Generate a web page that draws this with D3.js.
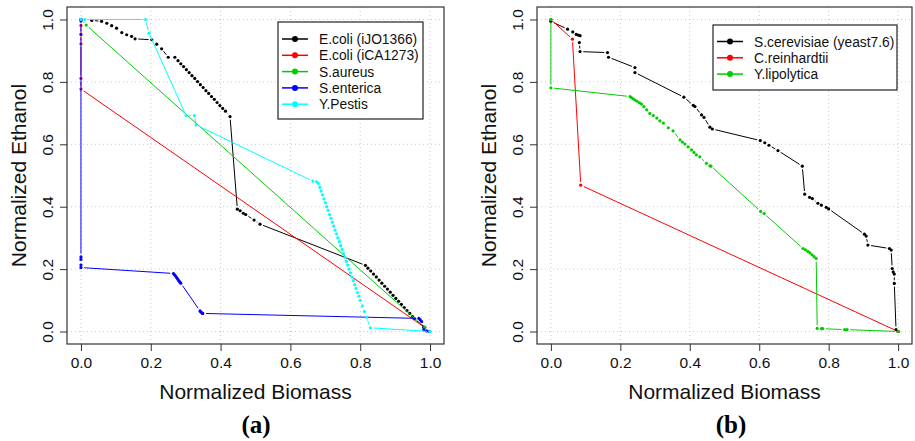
<!DOCTYPE html>
<html>
<head>
<meta charset="utf-8">
<script src="https://cdn.jsdelivr.net/npm/d3@7"></script>
<style>
  body { margin: 0; background: #fff; }
  svg { display: block; font-family: "Liberation Sans", Arial, sans-serif; }
</style>
</head>
<body>
<svg id="chart" width="915" height="441"></svg>
<script>
// ---- data: [biomass, ethanol] ----
var ecoliJO = [[0.031,0.997],[0.059,0.994],[0.074,0.988],[0.088,0.980],[0.102,0.972],[0.117,0.958],[0.131,0.951],[0.145,0.946],[0.155,0.938],[0.203,0.935],[0.217,0.921],[0.231,0.906],[0.250,0.879],[0.269,0.879],
  [0.278,0.868],[0.286,0.858],[0.294,0.849],[0.302,0.839],[0.310,0.830],[0.318,0.820],[0.326,0.811],[0.334,0.801],[0.342,0.791],[0.350,0.782],[0.358,0.772],[0.366,0.763],[0.374,0.753],[0.382,0.744],[0.390,0.734],[0.398,0.724],[0.406,0.715],[0.414,0.706],[0.427,0.689],
  [0.448,0.392],[0.456,0.387],[0.465,0.379],[0.472,0.375],[0.496,0.357],[0.513,0.344],
  [0.815,0.212],[0.822,0.203],[0.830,0.194],[0.838,0.184],[0.846,0.175],[0.854,0.165],[0.862,0.155],[0.870,0.145],[0.878,0.136],[0.886,0.126],[0.894,0.116],[0.902,0.106],[0.910,0.097],[0.918,0.087],[0.926,0.077],[0.934,0.067],[0.942,0.058],[0.950,0.048],[0.956,0.041],[0.982,0.014]];
var ecoliCA = [[0,1.0],[0,0.981],[0,0.922],[0,0.811],[0,0.777],[0.985,0.013]];
var saureus = [[0,1.0],[0.015,0.982],[0.985,0.013]];
var senterica = [[0,1.0],[0,0.995],[0,0.952],[0,0.239],[0,0.231],[0,0.213],[0,0.205],
  [0.265,0.186],[0.268,0.182],[0.271,0.178],[0.274,0.173],[0.277,0.168],[0.280,0.163],[0.283,0.159],[0.286,0.155],
  [0.341,0.066],[0.344,0.062],[0.347,0.059],[0.349,0.058],
  [0.968,0.042],[0.972,0.037],[0.976,0.032],[0.982,0.006],[0.990,0.002],[0.998,0.0]];
var ypestis = [[0,1.0],[0.011,1.0],[0.185,1.0],[0.195,0.956],[0.301,0.692],[0.325,0.692],[0.330,0.662],[0.664,0.482],[0.675,0.480],
  [0.680,0.475],[0.684,0.462],[0.688,0.450],[0.692,0.438],[0.696,0.425],[0.700,0.413],[0.704,0.400],[0.708,0.388],[0.712,0.375],[0.716,0.363],[0.720,0.350],[0.724,0.338],[0.728,0.325],[0.732,0.313],[0.736,0.300],[0.740,0.288],[0.744,0.275],[0.748,0.263],[0.752,0.250],[0.756,0.238],[0.760,0.225],[0.764,0.213],[0.768,0.200],[0.772,0.188],[0.776,0.175],[0.780,0.163],[0.784,0.150],[0.788,0.138],[0.792,0.125],[0.796,0.113],[0.800,0.100],
  [0.806,0.082],[0.812,0.064],[0.818,0.045],[0.829,0.012],[1.0,0.0]];

var scerevisiae = [[0,0.994],[0.048,0.969],[0.063,0.960],[0.073,0.952],[0.079,0.950],[0.084,0.948],[0.082,0.926],[0.084,0.897],[0.163,0.894],[0.166,0.879],[0.242,0.846],[0.242,0.830],[0.383,0.751],[0.410,0.725],[0.415,0.721],[0.434,0.694],[0.441,0.686],[0.458,0.655],[0.465,0.649],[0.603,0.612],[0.616,0.605],[0.628,0.597],[0.654,0.580],[0.724,0.530],[0.731,0.440],[0.745,0.430],[0.753,0.426],[0.769,0.411],[0.779,0.405],[0.793,0.398],[0.800,0.393],[0.903,0.312],[0.908,0.306],[0.913,0.277],[0.975,0.266],[0.980,0.261],[0.983,0.202],[0.986,0.191],[0.989,0.184],[0.989,0.154],[0.994,0.006],[1.0,0.0]];
var creinhardtii = [[0,1.0],[0.062,0.937],[0.086,0.469],[1.0,0.0]];
var ylipolytica = [[0,1.0],[0,0.781],[0.228,0.753],[0.232,0.750],[0.237,0.746],[0.242,0.742],[0.248,0.738],[0.255,0.733],[0.261,0.729],[0.268,0.721],[0.276,0.710],[0.285,0.699],[0.295,0.692],[0.305,0.684],[0.314,0.675],[0.324,0.668],[0.338,0.653],[0.352,0.643],[0.372,0.614],[0.379,0.607],[0.386,0.601],[0.395,0.592],[0.405,0.582],[0.412,0.574],[0.419,0.566],[0.429,0.560],[0.448,0.539],[0.458,0.531],[0.461,0.530],[0.604,0.385],[0.614,0.378],[0.726,0.266],[0.733,0.262],[0.740,0.257],[0.746,0.252],[0.752,0.246],[0.758,0.240],[0.764,0.234],[0.767,0.010],[0.779,0.009],[0.783,0.009],[0.846,0.006],[0.853,0.006],[1.0,0.0]];

var ticks = [0, 0.2, 0.4, 0.6, 0.8, 1.0];
var tickLabels = ["0.0", "0.2", "0.4", "0.6", "0.8", "1.0"];

var namesA = ["E.coli (iJO1366)", "E.coli (iCA1273)", "S.aureus", "S.enterica", "Y.Pestis"];
var colorsA = ["#000000", "#ff0000", "#00cd00", "#0000ff", "#00ffff"];
var namesB = ["S.cerevisiae (yeast7.6)", "C.reinhardtii", "Y.lipolytica"];
var colorsB = ["#000000", "#ff0000", "#00cd00"];

var svg = d3.select("#chart");

function drawPanel(p) {
    var x = d3.scaleLinear().domain([-0.04, 1.04]).range([p.left, p.right]);
    var y = d3.scaleLinear().domain([-0.04, 1.04]).range([p.bottom, p.top]);
    var g = svg.append("g");

    // dotted grid
    g.selectAll(".vgrid").data(ticks).enter().append("line")
        .attr("x1", function (d) { return x(d); }).attr("x2", function (d) { return x(d); })
        .attr("y1", p.top).attr("y2", p.bottom)
        .attr("stroke", "#c8c8c8").attr("stroke-dasharray", "1,3");
    g.selectAll(".hgrid").data(ticks).enter().append("line")
        .attr("y1", function (d) { return y(d); }).attr("y2", function (d) { return y(d); })
        .attr("x1", p.left).attr("x2", p.right)
        .attr("stroke", "#c8c8c8").attr("stroke-dasharray", "1,3");

    // series: R type="b" -> lines with gaps around points
    var gap = 3.2;
    p.series.forEach(function (s, i) {
        var col = p.colors[i];
        for (var k = 1; k < s.length; k++) {
            var x0 = x(s[k-1][0]), y0 = y(s[k-1][1]), x1 = x(s[k][0]), y1 = y(s[k][1]);
            var len = Math.hypot(x1 - x0, y1 - y0);
            if (len <= 2 * gap + 0.5) continue;
            var ux = (x1 - x0) / len, uy = (y1 - y0) / len;
            g.append("line")
                .attr("x1", x0 + ux * gap).attr("y1", y0 + uy * gap)
                .attr("x2", x1 - ux * gap).attr("y2", y1 - uy * gap)
                .attr("stroke", col).attr("stroke-width", 1);
        }
        g.selectAll(null).data(s).enter().append("circle")
            .attr("cx", function (d) { return x(d[0]); })
            .attr("cy", function (d) { return y(d[1]); })
            .attr("r", 1.6).attr("fill", col);
    });

    // box
    g.append("rect").attr("x", p.left).attr("y", p.top)
        .attr("width", p.right - p.left).attr("height", p.bottom - p.top)
        .attr("fill", "none").attr("stroke", "#333").attr("stroke-width", 1.2);

    // axes
    var xa = g.append("g").attr("transform", "translate(0," + p.bottom + ")")
        .call(d3.axisBottom(x).tickValues(ticks).tickSize(7).tickPadding(6)
            .tickFormat(function (d, i) { return tickLabels[i]; }));
    var ya = g.append("g").attr("transform", "translate(" + p.left + ",0)")
        .call(d3.axisLeft(y).tickValues(ticks).tickSize(7)
            .tickFormat(function (d, i) { return tickLabels[i]; }));
    [xa, ya].forEach(function (a) {
        a.select(".domain").remove();
        a.selectAll("line").attr("stroke", "#333");
        a.selectAll("text").attr("font-size", 15.5).attr("fill", "#111")
            .attr("font-family", "Liberation Sans, Arial, sans-serif");
    });
    // y tick labels rotated like R (las = 0)
    ya.selectAll(".tick text")
        .attr("x", 0).attr("dy", null).attr("y", 0)
        .attr("text-anchor", "middle")
        .attr("transform", "translate(-14,0) rotate(-90)");

    // titles
    g.append("text").attr("x", (p.left + p.right) / 2).attr("y", 399)
        .attr("text-anchor", "middle").attr("font-size", 21).attr("fill", "#111")
        .text("Normalized Biomass");
    g.append("text")
        .attr("transform", "translate(" + (p.left - 41) + "," + ((p.top + p.bottom) / 2) + ") rotate(-90)")
        .attr("text-anchor", "middle").attr("font-size", 21).attr("fill", "#111")
        .text("Normalized Ethanol");
    g.append("text").attr("x", p.capX).attr("y", 433)
        .attr("text-anchor", "middle").attr("font-size", 25).attr("font-weight", "bold")
        .attr("font-family", "Liberation Serif, Times New Roman, serif")
        .text(p.caption);

    // legend
    var L = p.legend;
    g.append("rect").attr("x", L.x).attr("y", L.y).attr("width", L.w).attr("height", L.h)
        .attr("fill", "#fff").attr("stroke", "#222").attr("stroke-width", 1.2);
    p.names.forEach(function (n, i) {
        var yy = L.y + L.first + i * L.step;
        g.append("line").attr("x1", L.x + 4).attr("x2", L.x + 30).attr("y1", yy).attr("y2", yy)
            .attr("stroke", p.colors[i]).attr("stroke-width", 1.5);
        g.append("circle").attr("cx", L.x + 17).attr("cy", yy).attr("r", 3).attr("fill", p.colors[i]);
        g.append("text").attr("x", L.x + 41).attr("y", yy + 5).attr("font-size", 13.8).attr("fill", "#111")
            .text(n);
    });
}

drawPanel({
    left: 67, right: 444, top: 7, bottom: 344,
    series: [ecoliJO, ecoliCA, saureus, senterica, ypestis],
    colors: colorsA, names: namesA, caption: "(a)", capX: 256,
    legend: { x: 278, y: 22, w: 145, h: 97, first: 17, step: 16.3 }
});
drawPanel({
    left: 537, right: 912, top: 7, bottom: 344,
    series: [scerevisiae, creinhardtii, ylipolytica],
    colors: colorsB, names: namesB, caption: "(b)", capX: 731,
    legend: { x: 713, y: 25, w: 184, h: 65, first: 16.5, step: 16.3 }
});
</script>
</body>
</html>
